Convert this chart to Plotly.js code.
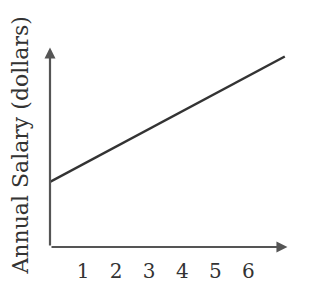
<!DOCTYPE html>
<html>
<head>
<meta charset="utf-8">
<script src="https://cdn.plot.ly/plotly-3.0.1.min.js"></script>
<style>html,body{margin:0;padding:0;background:#fff;}#chart{width:309px;height:284px;}</style>
</head>
<body>
<div id="chart"></div>
<script>
// Data (arbitrary units; y is unlabelled)
const yearTicks = [1, 2, 3, 4, 5, 6];
const tickLabels = ["1", "2", "3", "4", "5", "6"];
const salaryX = [0, 7.1];
const salaryY = [1.97, 5.76];
const xAxisEnd = 7.18;   // arrow tip of the x axis
const yAxisEnd = 6.03;   // arrow tip of the y axis
const yTitle = "Annual Salary (dollars)";
const xName = "x";

const serif = "DejaVu Serif, Liberation Serif, serif";
const ink = "#333";
const axisInk = "#555";

const traces = [{
  x: salaryX, y: salaryY, type: "scatter", mode: "lines",
  line: {color: ink, width: 2.5}, hoverinfo: "skip", cliponaxis: false
}];

const layout = {
  width: 309, height: 284,
  margin: {l: 50, r: 11, t: 42, b: 37},
  paper_bgcolor: "#fff", plot_bgcolor: "#fff",
  showlegend: false,
  xaxis: {
    range: [0, 7.5], showgrid: false, zeroline: false, showline: false,
    tickvals: yearTicks, ticktext: tickLabels, ticks: "",
    tickfont: {family: serif, size: 20, color: ink},
    ticklabelstandoff: 10, fixedrange: true
  },
  yaxis: {
    range: [0, 205 / 33.07], showgrid: false, zeroline: false, showline: false,
    showticklabels: false, ticks: "", fixedrange: true
  },
  annotations: [
    {xref: "x", yref: "y", axref: "x", ayref: "y", x: xAxisEnd, y: 0, ax: 0, ay: 0,
     text: "", showarrow: true, arrowhead: 2, arrowsize: 1, arrowwidth: 2.2, arrowcolor: axisInk, standoff: 0, startstandoff: 0},
    {xref: "x", yref: "y", axref: "x", ayref: "y", x: 0, y: yAxisEnd, ax: 0, ay: 0,
     text: "", showarrow: true, arrowhead: 2, arrowsize: 1, arrowwidth: 2.2, arrowcolor: axisInk, standoff: 0, startstandoff: 0},
    {xref: "x", yref: "y", x: 7.56, y: 0.05, text: xName, showarrow: false,
     xanchor: "center", yanchor: "middle",
     font: {family: serif, size: 20, color: ink, style: "italic"}},
    {xref: "paper", yref: "paper", x: -29 / 248, y: 0.495, text: yTitle, showarrow: false,
     textangle: -90, xanchor: "center", yanchor: "middle",
     font: {family: serif, size: 22, color: ink}}
  ]
};

Plotly.newPlot("chart", traces, layout, {staticPlot: true, displayModeBar: false});
</script>
</body>
</html>
